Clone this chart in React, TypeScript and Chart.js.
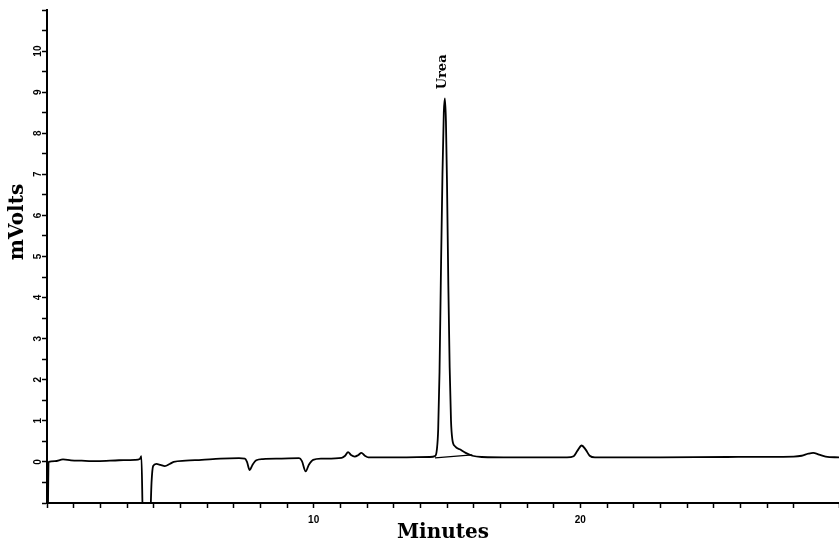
import { useEffect, useRef } from "react";
import { Chart, registerables } from "chart.js";

Chart.register(...registerables);

// Chromatogram trace (time in minutes, detector signal in mV)
const minutes = [
  0.03, 0.06, 0.3, 0.6, 0.9, 1.3, 1.9, 2.7, 3.3, 3.48, 3.54, 3.6, 3.86, 3.92, 3.98,
  4.1, 4.25, 4.42, 4.6, 4.75, 5.2, 5.8, 6.5, 7.2, 7.42, 7.5, 7.6, 7.7, 7.85, 8.1,
  8.8, 9.45, 9.56, 9.7, 9.82, 9.98, 10.3, 11.05, 11.18, 11.29, 11.4, 11.54, 11.68,
  11.79, 11.92, 12.05, 13.2, 14.35, 14.55, 14.62, 14.67, 14.72, 14.77, 14.83, 14.88,
  14.92, 14.96, 15.0, 15.05, 15.1, 15.15, 15.2, 15.3, 15.5, 15.7, 15.95, 16.3, 17.5,
  19.5, 19.75, 19.9, 20.05, 20.2, 20.35, 20.55, 23.0, 25.5, 28.0, 28.3, 28.55, 28.73,
  28.95, 29.2, 29.7,
];
const mVolts = [
  -1.5, 0.0, 0.02, 0.06, 0.04, 0.03, 0.02, 0.04, 0.05, 0.07, 0.14, -1.5, -1.5, -0.5, -0.1,
  -0.05, -0.07, -0.1, -0.05, 0.0, 0.03, 0.05, 0.08, 0.09, 0.08, 0.0, -0.2, -0.08, 0.04, 0.07,
  0.08, 0.09, 0.02, -0.23, -0.07, 0.05, 0.08, 0.1, 0.15, 0.24, 0.17, 0.13, 0.17,
  0.22, 0.15, 0.11, 0.11, 0.12, 0.14, 0.3, 0.8, 2.2, 4.5, 7.0, 8.5,
  8.85, 8.3, 6.8, 4.3, 2.3, 1.0, 0.55, 0.38, 0.3, 0.22, 0.15, 0.12, 0.11,
  0.11, 0.14, 0.28, 0.4, 0.3, 0.15, 0.11, 0.11, 0.12, 0.13, 0.15, 0.2, 0.22,
  0.18, 0.13, 0.11,
];

// Integration baseline under the urea peak
const baselineMinutes = [14.55, 15.95];
const baselineMVolts = [0.1, 0.17];

// Axis ticks / labels
const yTickLabels = ["0", "1", "2", "3", "4", "5", "6", "7", "8", "9", "10"];
const xTickLabels = ["10", "20"];

// Peak annotation
const peakName = "Urea";
const peakMinute = 14.92;
const peakMVolts = 8.85;

const xTitle = "Minutes";
const yTitle = "mVolts";

export default function App() {
  const canvasRef = useRef<HTMLCanvasElement | null>(null);

  useEffect(() => {
    const canvas = canvasRef.current;
    if (!canvas) return;

    const textPlugin = {
      id: "chromText",
      afterDraw(chart: any) {
        const ctx = chart.ctx as CanvasRenderingContext2D;
        const ys = chart.scales.y;
        const xs = chart.scales.x;
        const area = chart.chartArea;
        ctx.save();
        ctx.fillStyle = "#000";
        // y tick labels, rotated
        ctx.font = 'bold 10px "Liberation Sans", Arial, sans-serif';
        ctx.textAlign = "center";
        ctx.textBaseline = "middle";
        yTickLabels.forEach((lab) => {
          const py = ys.getPixelForValue(Number(lab));
          ctx.save();
          ctx.translate(area.left - 9, py);
          ctx.rotate(-Math.PI / 2);
          ctx.fillText(lab, 0, 0);
          ctx.restore();
        });
        // y title
        ctx.font = 'bold 20px "DejaVu Serif", serif';
        ctx.save();
        ctx.translate(18, area.top + (area.bottom - area.top) * 0.43);
        ctx.rotate(-Math.PI / 2);
        ctx.fillText(yTitle, 0, 0);
        ctx.restore();
        // peak label
        ctx.font = 'bold 13px "DejaVu Serif", serif';
        ctx.textAlign = "left";
        ctx.save();
        ctx.translate(xs.getPixelForValue(peakMinute) - 2, ys.getPixelForValue(peakMVolts) - 9);
        ctx.rotate(-Math.PI / 2);
        ctx.fillText(peakName, 0, 0);
        ctx.restore();
        ctx.restore();
      },
    };

    const chart = new Chart(canvas, {
      type: "line",
      data: {
        datasets: [
          {
            data: minutes.map((m, i) => ({ x: m, y: mVolts[i] })),
            borderColor: "#000",
            borderWidth: 1.8,
            pointRadius: 0,
            cubicInterpolationMode: "monotone",
            fill: false,
          },
          {
            data: baselineMinutes.map((m, i) => ({ x: m, y: baselineMVolts[i] })),
            borderColor: "#000",
            borderWidth: 1.2,
            pointRadius: 0,
            fill: false,
          },
        ],
      },
      options: {
        animation: false,
        responsive: false,
        layout: { padding: { top: 10, left: 0, right: 0, bottom: 0 } },
        plugins: {
          legend: { display: false },
          tooltip: { enabled: false },
        },
        scales: {
          x: {
            type: "linear",
            min: 0,
            max: 29.7,
            afterFit: (s: any) => {
              s.height = 43;
              s.paddingLeft = 0;
              s.paddingRight = 0;
            },
            border: { display: true, color: "#000", width: 2 },
            grid: {
              drawOnChartArea: false,
              drawTicks: true,
              tickLength: 5,
              color: "#000",
              tickColor: "#000",
              tickWidth: 1.5,
            },
            ticks: {
              stepSize: 1,
              autoSkip: false,
              maxRotation: 0,
              minRotation: 0,
              padding: 6,
              color: "#000",
              font: { family: '"Liberation Sans", Arial, sans-serif', weight: "bold", size: 10 },
              callback: (v: any) => (xTickLabels.includes(String(v)) ? String(v) : ""),
            },
            title: {
              display: true,
              text: xTitle,
              color: "#000",
              font: { family: '"DejaVu Serif", serif', weight: "bold", size: 20 },
              padding: { top: 0, bottom: 1 },
            },
          },
          y: {
            type: "linear",
            min: -1,
            max: 11,
            afterFit: (s: any) => {
              s.width = 47;
              s.paddingTop = 0;
              s.paddingBottom = 0;
            },
            border: { display: true, color: "#000", width: 2 },
            grid: {
              drawOnChartArea: false,
              drawTicks: true,
              tickLength: 5,
              color: "#000",
              tickColor: "#000",
              tickWidth: 1.5,
            },
            ticks: { stepSize: 0.5, display: false },
          },
        },
      },
      plugins: [textPlugin],
    } as any);

    return () => chart.destroy();
  }, []);

  return (
    <div style={{ position: "fixed", left: 0, top: 0, width: 839, height: 546, background: "#fff" }}>
      <canvas ref={canvasRef} width={839} height={546} style={{ display: "block" }} />
    </div>
  );
}
